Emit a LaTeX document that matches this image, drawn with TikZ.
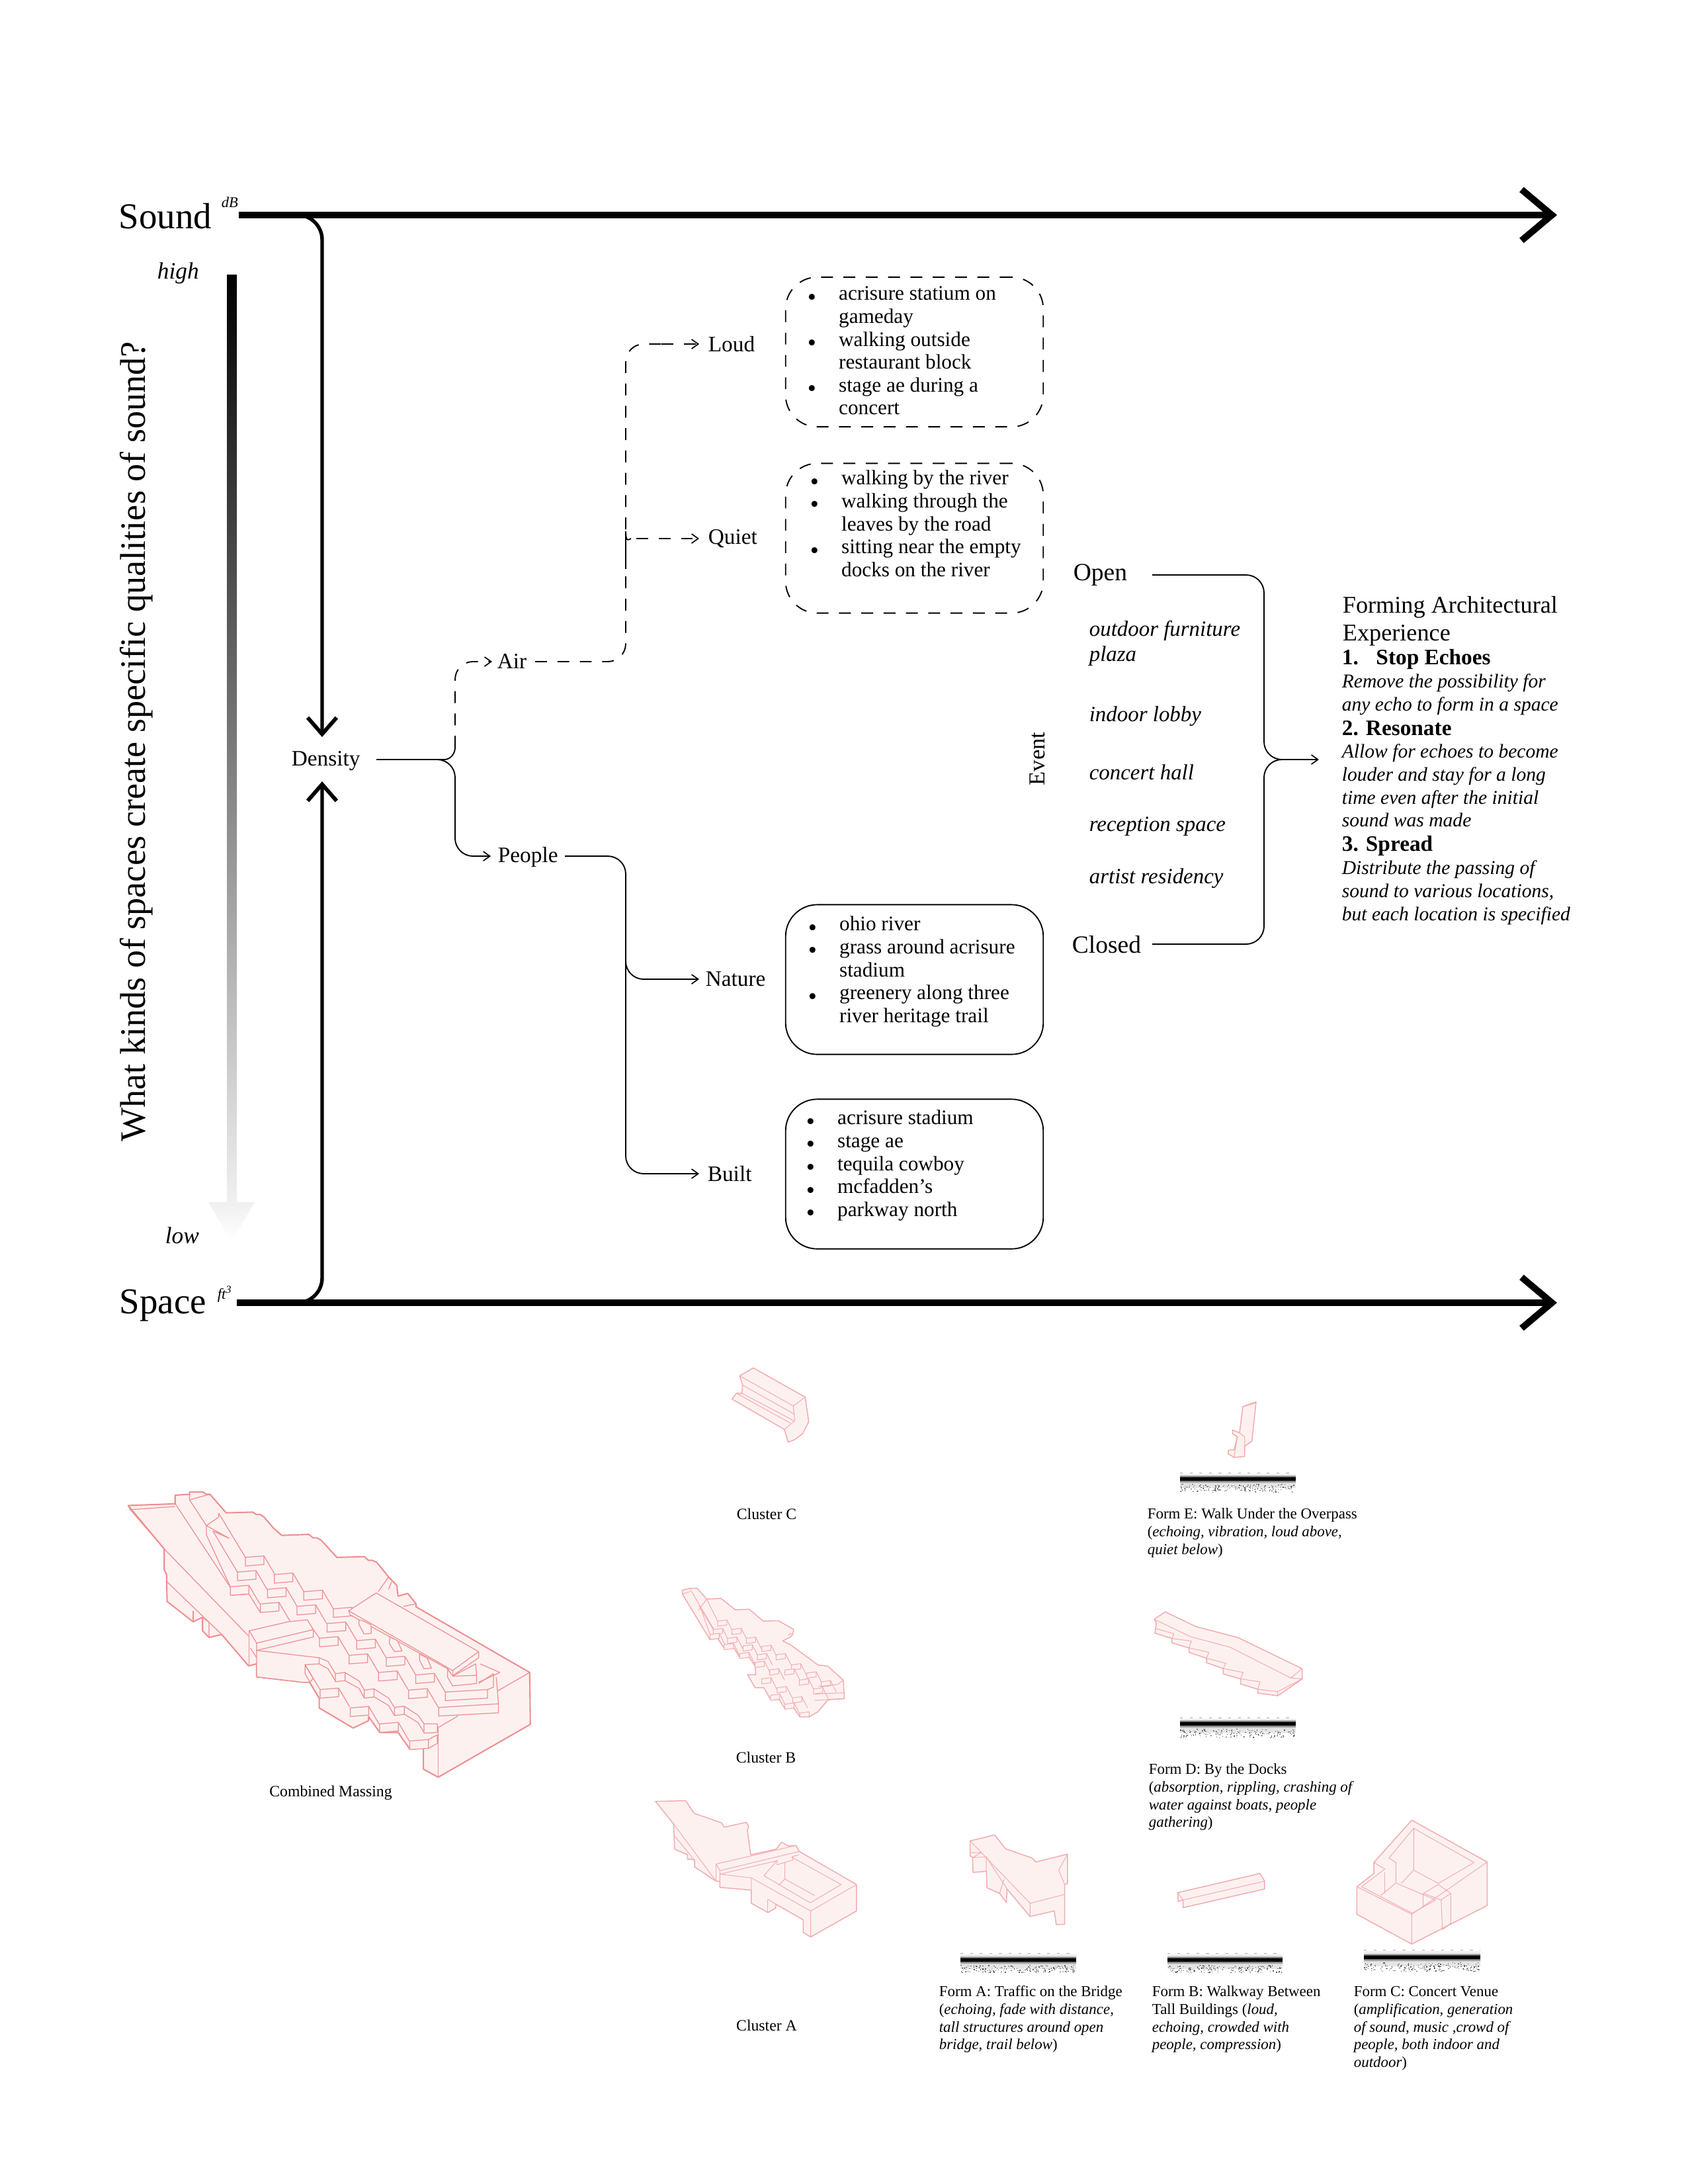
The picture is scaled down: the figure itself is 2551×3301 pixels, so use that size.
\documentclass[tikz,border=0pt]{standalone}
\usepackage{fontspec}
\setmainfont{Liberation Serif}
\usetikzlibrary{arrows.meta,calc}
\definecolor{massfill}{HTML}{FDF1F0}
\definecolor{massline}{HTML}{EE8F92}
\definecolor{masslite}{HTML}{F2ACAF}
\newcommand{\fsz}[2]{\fontsize{#1}{#2}\selectfont}
\newcommand{\bu}{\raisebox{-1.8pt}{\fontsize{9}{8}\selectfont\textbullet}}
\newcommand{\bl}[1]{\rule{0pt}{6pt}\makebox[11.35pt][l]{\bu}#1}
\newcommand{\nb}[1]{\hspace*{11.35pt}#1}
\newcommand{\fr}{\rule{0pt}{5pt}}
\newcommand{\ii}[1]{\textit{#1}}
\newcommand{\mblk}[2]{%
  \draw[mline] (#1+63,#2-6) -- (#1+100,#2+70);
  \draw[mline,fill=massfill] (#1,#2) -- (#1+63,#2-6) -- (#1+63,#2+29) -- (#1,#2+35) -- cycle;}
\newcommand{\sblk}[2]{%
  \draw[lline] (#1+42,#2-5) -- (#1+68,#2+40);
  \draw[lline,fill=massfill] (#1,#2) -- (#1+42,#2-5) -- (#1+42,#2+15) -- (#1,#2+20) -- cycle;}
\newcommand{\spectro}[6]{%
  \pgfmathsetseed{#6}
  \draw[black!35,line width=0.2pt,dash pattern=on 1pt off 2.5pt] (#1,#3) -- (#2,#3);
  \fill[black!7] (#1,#3+2) rectangle (#2,#4-6);
  \shade[top color=black!7,bottom color=black!85] (#1,#4-6) rectangle (#2,#4-2);
  \fill[black] (#1,#4-2) rectangle (#2,#4+3);
  \shade[top color=black!55,bottom color=black!6] (#1,#4+3) rectangle (#2,#4+7);
  \fill[black!10] (#1,#4+7) rectangle (#2,#4+14);
  \foreach \i in {1,...,170}{%
    \pgfmathsetmacro\rx{#1+rnd*(#2-#1-2)}%
    \pgfmathsetmacro\ry{#4+8+rnd*(#5-#4-9)}%
    \fill[black!65] (\rx,\ry) rectangle ++(1.4,1.2);}
}
\tikzset{
  lab/.style={inner sep=0pt,anchor=base west,font=\fsz{8}{8.3}},
  lst/.style={inner sep=0pt,anchor=north west,align=left,font=\fsz{7.5}{8.3}},
  bigl/.style={inner sep=0pt,anchor=base west,font=\fsz{13.2}{14}},
  midl/.style={inner sep=0pt,anchor=base west,font=\fsz{9}{10}},
  evt/.style={inner sep=0pt,anchor=base west,font=\fsz{7.9}{9}\itshape},
  bdy/.style={inner sep=0pt,anchor=north west,align=left,font=\fsz{7.1}{8.3}\itshape},
  capn/.style={inner sep=0pt,anchor=north west,align=left,font=\fsz{5.5}{6.4}},
  capc/.style={inner sep=0pt,anchor=base,font=\fsz{5.7}{6.4}},
  axisl/.style={line width=2.3pt,-{Straight Barb[length=11pt,width=18.5pt,line width=2.4pt]}},
  dens/.style={line width=1.3pt,rounded corners=9pt,-{Straight Barb[length=6pt,width=10.5pt,line width=1.4pt]}},
  thin1/.style={line width=0.45pt,rounded corners=6.5pt},
  tip1/.style={-{Straight Barb[length=2.4pt,width=3.4pt,line width=0.4pt]}},
  dsh/.style={dash pattern=on 4.3pt off 3.8pt},
  rbox/.style={draw=black,line width=0.45pt,rounded corners=11.5pt,minimum width=93.5pt,minimum height=54.3pt,inner sep=0pt},
  mout/.style={fill=massfill,draw=massline,line width=0.5pt,line join=round},
  mline/.style={draw=massline,line width=0.3pt,line join=round},
  lout/.style={fill=massfill,draw=masslite,line width=0.36pt,line join=round},
  lline/.style={draw=masslite,line width=0.24pt,line join=round},
}
\begin{document}
\begin{tikzpicture}[x=0.24pt,y=-0.24pt]
\useasboundingbox (0,0) rectangle (2551,3301);

% axes labels
\node[bigl] (sound) at (179,345) {Sound};
\node[inner sep=0pt,anchor=base west,font=\fsz{5.4}{6}\itshape] (db) at (334,313) {dB};
\node[bigl] (space) at (180,1985) {Space};
\node[inner sep=0pt,anchor=base west,font=\fsz{5.5}{6.5}\itshape] (ft) at (328,1963) {ft\textsuperscript{3}};
\node[inner sep=0pt,anchor=base west,font=\fsz{8.5}{9}\itshape] (high) at (237,421) {high};
\node[inner sep=0pt,anchor=base west,font=\fsz{8.5}{9}\itshape] (low) at (249,1879) {low};
\node[inner sep=0pt,anchor=base,rotate=90,font=\fsz{13}{14}] (title) at (219,1121) {What kinds of spaces create specific qualities of sound?};

% gradient bar
\shade[top color=black,bottom color=black!6] (343,415) rectangle (358,1817);
\shade[top color=black!6,bottom color=white] (315,1817) -- (385,1817) -- (350,1877) -- cycle;

% main axes
\coordinate (sndE) at (2354,325);
\coordinate (spcS) at (358,1969);
\coordinate (spcE) at (2354,1969);
\draw[axisl] (db.east |- sndE) -- (sndE);
\draw[axisl] (spcS) -- (spcE);

% density
\node[lab] (density) at (440,1157) {Density};
\coordinate (dTop) at (487,1114);
\coordinate (dBot) at (487,1181);
\draw[dens] (450,325) -- (487,325) -- (dTop);
\draw[dens] (450,1969) -- (487,1969) -- (dBot);

% tree
\node[lab] (air) at (751,1010) {Air};
\node[lab] (people) at (752,1303) {People};
\node[lab] (loud) at (1070,531) {Loud};
\node[lab] (quiet) at (1070,822) {Quiet};
\node[lab] (nature) at (1066,1490) {Nature};
\node[lab] (built) at (1069,1785) {Built};
\coordinate (j1) at (688,1148);
\coordinate (j2) at (946,1000);
\coordinate (j3) at (946,1294);
\coordinate (aEnd) at (744,1000);
\coordinate (pEnd) at (742,1294);
\coordinate (lEnd) at (1057,520);
\coordinate (qEnd) at (1057,814);
\coordinate (nEnd) at (1057,1480);
\coordinate (bEnd) at (1057,1774);
\draw[thin1] (569,1148) -- (674,1148);
\draw[thin1,tip1] (660,1148) -- (j1) -- (688,1294) -- (pEnd);
\draw[thin1,tip1,dsh] (688,1130) -- (688,1000) -- (aEnd);
\draw[thin1] (672,1148) .. controls (680,1148) and (688,1140) .. (688,1130);
\draw[thin1,dsh] (809,1000) -- (j2) -- (946,825);
\draw[thin1,dsh] (946,800) -- (946,520) -- (1000,520);
\draw[thin1,tip1,dsh] (1000,520) -- (lEnd);
\draw[thin1,tip1,dsh] (962,814) -- (qEnd);
\draw[thin1] (946,860) -- (946,830) .. controls (946,820) and (950,816) .. (954,814);
\draw[thin1,tip1] (854,1294) -- (j3) -- (946,1774) -- (bEnd);
\draw[thin1,tip1] (946,1445) -- (946,1480) -- (nEnd);

% boxes
\node[rbox,dsh] (bLoud) at (1382.5,532) {};
\node[rbox,dsh] (bQuiet) at (1382.5,813.5) {};
\node[rbox] (bNature) at (1382.5,1480.5) {};
\node[rbox] (bBuilt) at (1382.5,1774.5) {};
\node[lst] (lLoud) at (1220,428) {\bl{acrisure statium on}\\\nb{gameday}\\\nb{\llap{\bu\hspace{8.2pt}}walking outside}\\\nb{restaurant block}\\\nb{\llap{\bu\hspace{8.2pt}}stage ae during a}\\\nb{concert}};
\node[lst] (lQuiet) at (1224,707) {\bl{walking by the river}\\\nb{\llap{\bu\hspace{8.2pt}}walking through the}\\\nb{leaves by the road}\\\nb{\llap{\bu\hspace{8.2pt}}sitting near the empty}\\\nb{docks on the river}};
\node[lst] (lNature) at (1221,1381) {\bl{ohio river}\\\nb{\llap{\bu\hspace{8.2pt}}grass around acrisure}\\\nb{stadium}\\\nb{\llap{\bu\hspace{8.2pt}}greenery along three}\\\nb{river heritage trail}};
\node[lst] (lBuilt) at (1218,1674) {\bl{acrisure stadium}\\\nb{\llap{\bu\hspace{8.2pt}}stage ae}\\\nb{\llap{\bu\hspace{8.2pt}}tequila cowboy}\\\nb{\llap{\bu\hspace{8.2pt}}mcfadden’s}\\\nb{\llap{\bu\hspace{8.2pt}}parkway north}};

% event column
\node[midl] (open) at (1622,877) {Open};
\node[midl] (closed) at (1620,1440) {Closed};
\node[inner sep=0pt,anchor=base,rotate=90,font=\fsz{8.3}{9}] (event) at (1579,1147) {Event};
\node[evt] (e1a) at (1646,961) {outdoor furniture};
\node[evt] (e1b) at (1646,999) {plaza};
\node[evt] (e2) at (1646,1090) {indoor lobby};
\node[evt] (e3) at (1646,1178) {concert hall};
\node[evt] (e4) at (1646,1256) {reception space};
\node[evt] (e5) at (1646,1335) {artist residency};
\coordinate (jr) at (1911,1148);
\coordinate (rEnd) at (1994,1148);
\draw[thin1,tip1] (1742,869) -- (1911,869) -- (jr) -- (rEnd);
\draw[thin1] (1742,1427) -- (1911,1427) -- (jr) -- (1935,1148);

% forming text
\node[inner sep=0pt,anchor=north west,align=left,font=\fsz{8.7}{10.05}] (fh) at (2029,899) {\rule{0pt}{6.5pt}Forming Architectural\\Experience};
\node[inner sep=0pt,anchor=base west,font=\fsz{8}{9}\bfseries] (s1) at (2028,1004) {1.\hspace{6.4pt}Stop Echoes};
\node[bdy] (b1) at (2028,1014) {\rule{0pt}{6pt}Remove the possibility for\\any echo to form in a space};
\node[inner sep=0pt,anchor=base west,font=\fsz{8}{9}\bfseries] (s2) at (2028,1111) {2. Resonate};
\node[bdy] (b2) at (2028,1120) {\rule{0pt}{6pt}Allow for echoes to become\\louder and stay for a long\\time even after the initial\\sound was made};
\node[inner sep=0pt,anchor=base west,font=\fsz{8}{9}\bfseries] (s3) at (2028,1286) {3. Spread};
\node[bdy] (b3) at (2028,1296) {\rule{0pt}{6pt}Distribute the passing of\\sound to various locations,\\but each location is specified};

% captions
\node[capc] (cMass) at (500,2715) {Combined Massing};
\node[capc] (cC) at (1159,2296) {Cluster C};
\node[capc] (cB) at (1158,2664) {Cluster B};
\node[capc] (cA) at (1159,3069) {Cluster A};
\node[capn] (fE) at (1734,2274) {\fr Form E: Walk Under the Overpass\\(\ii{echoing, vibration, loud above,}\\\ii{quiet below})};
\node[capn] (fD) at (1736,2660) {\fr Form D: By the Docks\\(\ii{absorption, rippling, crashing of}\\\ii{water against boats, people}\\\ii{gathering})};
\node[capn] (fA) at (1419,2996) {\fr Form A: Traffic on the Bridge\\(\ii{echoing, fade with distance,}\\\ii{tall structures around open}\\\ii{bridge, trail below})};
\node[capn] (fB) at (1741,2996) {\fr Form B: Walkway Between\\Tall Buildings (\ii{loud,}\\\ii{echoing, crowded with}\\\ii{people, compression})};
\node[capn] (fC) at (2046,2996) {\fr Form C: Concert Venue\\(\ii{amplification, generation}\\\ii{of sound, music ,crowd of}\\\ii{people, both indoor and}\\\ii{outdoor})};

% spectrograms
\spectro{1784}{1959}{2226}{2235}{2256}{11}
\spectro{1784}{1959}{2596}{2605}{2627}{22}
\spectro{1452}{1627}{2952}{2962}{2982}{33}
\spectro{1765}{1939}{2952}{2962}{2982}{44}
\spectro{2062}{2238}{2947}{2958}{2980}{55}

% ---------- Combined massing
\begin{scope}[shift={(150,2180)},xscale=0.4464,yscale=0.37]
\draw[mout] (98,258) -- (257,251) -- (257,216) -- (306,212) -- (306,203) -- (352,203) -- (362,212) -- (375,212) -- (430,288) -- (520,285) -- (532,295) -- (546,295) -- (558,305) -- (590,350) -- (618,380) -- (710,376) -- (724,390) -- (737,390) -- (752,400) -- (805,470) -- (898,467) -- (912,482) -- (925,482) -- (940,490) -- (980,550) -- (1008,585) -- (1012,628) -- (1045,617) -- (1073,660) -- (1073,672) -- (1458,940) -- (1460,1152) -- (1148,1368) -- (1098,1335) -- (1098,1250) -- (1052,1253) -- (1012,1185) -- (950,1185) -- (912,1120) -- (912,1137) -- (860,1167) -- (745,1085) -- (745,1045) -- (712,980) -- (690,980) -- (533,958) -- (533,905) -- (510,912) -- (505,912) -- (415,785) -- (372,797) -- (350,770) -- (350,715) -- (318,733) -- (230,650) -- (228,540) -- (220,520) -- (220,435) -- cycle;
\draw[mline] (98,258) -- (105,275) -- (257,262);
\draw[mline] (105,275) -- (220,435) -- (505,790);
\draw[mline] (230,570) -- (415,785);
\draw[mline] (318,690) -- (318,733);
\draw[mline] (350,715) -- (372,735) -- (372,797);
\draw[mline] (257,250) -- (444,592);
\draw[mline] (306,235) -- (363,340);
\draw[mline] (306,212) -- (306,235) -- (375,212);
\draw[mline] (363,340) -- (405,305) -- (405,290) -- (495,470);
\draw[mline] (363,340) -- (363,378) -- (444,590);
\draw[mline] (363,340) -- (440,392) -- (385,362) -- (468,530);
\draw[mline] (444,625) -- (507,620) -- (546,695);
\foreach \a/\b in {495/470,593/540,693/610,793/680,468/530,570/600,670/670,772/740,872/810,972/880,1072/950,444/590,546/660,746/800,846/870,946/940,1048/1012,748/1010,850/1085,950/1150}{\mblk{\a}{\b}}
\draw[mline,fill=massfill] (1052,1220) -- (1115,1214) -- (1115,1250) -- (1052,1255) -- cycle;
\draw[mline] (725,765) -- (746,800);
\foreach \a/\b in {800/945,898/1012,1000/1083}{\draw[mline,fill=massfill] (\a,\b) -- (\a+33,\b-5) -- (\a+33,\b+28) -- (\a,\b+33) -- cycle;}
% bridge
\draw[mline,fill=massfill] (508,770) -- (640,733) -- (705,725) -- (725,765) -- (725,795) -- (533,850) -- (533,820) -- cycle;
\draw[mline] (533,820) -- (725,765);
\draw[mline] (508,770) -- (508,912);
\draw[mline] (512,840) -- (533,880);
\draw[mline,fill=massfill] (533,850) -- (745,880) -- (745,905) -- (697,908) -- (725,965) -- (712,980) -- (690,980) -- (533,958) -- cycle;
\draw[mline] (745,880) -- (775,895) -- (800,945);
\draw[mline] (745,905) -- (775,925) -- (800,975);
\draw[mline] (697,908) -- (748,1010);
\draw[mline] (697,908) -- (697,945) -- (745,1045);
\draw[mline] (832,940) -- (880,975) -- (898,1012);
\draw[mline] (832,973) -- (880,1005) -- (898,1045);
\draw[mline] (932,1008) -- (980,1045) -- (1000,1083);
\draw[mline] (932,1040) -- (980,1075) -- (1000,1116);
\draw[mline] (1033,1078) -- (1080,1115) -- (1100,1150);
\draw[mline] (1033,1110) -- (1080,1145) -- (1100,1185);
\draw[mline,fill=massfill] (1100,1150) -- (1145,1150) -- (1145,1185) -- (1100,1188) -- cycle;
\draw[mline,fill=massfill] (1115,1214) -- (1145,1195) -- (1145,1230) -- (1115,1250) -- cycle;
% big slab on the right
\draw[mline,fill=massfill] (845,688) -- (938,615) -- (1285,855) -- (1285,880) -- (1195,955) -- (1180,925) -- (850,705) -- cycle;
\draw[mline] (845,688) -- (1197,932);
\draw[mline] (1197,932) -- (1285,855);
\draw[mline] (1197,932) -- (1197,955);
\draw[mline,fill=massfill] (1197,955) -- (1275,905) -- (1278,952) -- (1197,958) -- cycle;
\draw[mline,fill=massfill] (1180,925) -- (1197,955) -- (1278,952) -- (1278,985) -- (1197,995) -- (1180,960) -- cycle;
\draw[mline,fill=massfill] (880,725) -- (895,730) -- (920,745) -- (922,780) -- (897,783) -- (880,745) -- cycle;
\draw[mline,fill=massfill] (985,795) -- (1010,810) -- (1025,852) -- (1000,855) -- (982,820) -- cycle;
\draw[mline,fill=massfill] (1085,865) -- (1110,880) -- (1125,922) -- (1100,925) -- (1085,890) -- cycle;
\draw[mline] (1290,905) -- (1357,940) -- (1285,980);
\draw[mline] (1285,985) -- (1335,945) -- (1335,1000) -- (1315,1010);
\draw[mline] (1345,960) -- (1352,1068);
\draw[mline,fill=massfill] (1172,1020) -- (1315,1010) -- (1315,1045) -- (1172,1055) -- cycle;
\draw[mline,fill=massfill] (1150,1083) -- (1352,1068) -- (1352,1105) -- (1150,1118) -- cycle;
\draw[mline] (1350,1015) -- (1458,940);
\draw[mline] (1148,1165) -- (1148,1368);
\draw[mline] (1148,1165) -- (1215,1118);
\draw[mline] (1030,670) -- (1073,660);
\draw[mline] (945,610) -- (980,550);
\draw[mline] (980,600) -- (990,570);
\end{scope}

% ---------- Cluster C
\begin{scope}[shift={(950,2040)},xscale=0.3333,yscale=0.3827]
\draw[lout] (505,103) -- (567,72) -- (802,187) -- (818,285) -- (790,332) -- (755,355) -- (725,365) -- (708,315) -- (470,195) -- (490,172) -- (515,172) -- (518,140) -- cycle;
\draw[lline] (505,103) -- (748,222) -- (802,187);
\draw[lline] (748,222) -- (755,280) -- (708,315) -- (725,365);
\draw[lline] (518,140) -- (750,253);
\draw[lline] (515,172) -- (750,280);
\draw[lline] (490,172) -- (735,290);
\end{scope}

% ---------- Cluster B
\begin{scope}[shift={(950,2040)},xscale=0.3333,yscale=0.3827]
\draw[lout] (245,950) -- (280,942) -- (312,942) -- (355,985) -- (420,982) -- (485,1027) -- (548,1025) -- (612,1072) -- (680,1070) -- (750,1105) -- (745,1125) -- (735,1135) -- (700,1150) -- (735,1165) -- (860,1245) -- (905,1250) -- (975,1305) -- (980,1378) -- (905,1383) -- (860,1430) -- (820,1450) -- (778,1450) -- (750,1415) -- (710,1418) -- (685,1382) -- (645,1382) -- (615,1335) -- (575,1335) -- (540,1283) -- (578,1283) -- (575,1250) -- (548,1215) -- (505,1215) -- (480,1180) -- (435,1180) -- (405,1140) -- (370,1145) -- (245,965) -- cycle;
\draw[lline] (245,965) -- (280,955);
\draw[lline] (280,945) -- (405,1130);
\draw[lline] (320,1010) -- (385,1105);
\draw[lline] (318,1030) -- (355,985) -- (405,1072);
\draw[lline] (330,1025) -- (370,1125);
\foreach \a/\b in {405/1072,470/1105,535/1140,605/1172,670/1205,740/1245,810/1277,875/1312,385/1105,450/1140,520/1170,585/1205,640/1265,710/1265,775/1305,840/1340,370/1125,435/1165,505/1200,575/1235,605/1300,675/1335,745/1375,645/1365,710/1400}{\sblk{\a}{\b}}
\draw[lline,fill=massfill] (778,1435) -- (820,1430) -- (820,1450) -- (778,1450) -- cycle;
\draw[lline] (845,1360) -- (975,1355);
\draw[lline] (845,1385) -- (975,1378);
\draw[lline] (860,1330) -- (950,1322) -- (975,1305);
\draw[lline] (725,1130) -- (735,1120) -- (745,1125);
\end{scope}

% ---------- Cluster A
\begin{scope}[shift={(980,2700)},xscale=0.3333,yscale=0.3333]
\draw[lout] (33,68) -- (170,65) -- (208,122) -- (332,165) -- (345,185) -- (445,163) -- (455,180) -- (450,200) -- (465,310) -- (580,285) -- (605,253) -- (635,270) -- (670,268) -- (685,295) -- (945,445) -- (945,565) -- (737,683) -- (703,662) -- (703,605) -- (580,535) -- (578,552) -- (543,572) -- (468,530) -- (468,470) -- (430,467) -- (325,458) -- (325,430) -- (308,430) -- (210,365) -- (210,335) -- (195,330) -- (178,330) -- (178,310) -- (120,285) -- (115,170) -- cycle;
\draw[lline] (115,170) -- (308,430);
\draw[lline] (120,225) -- (210,335);
\draw[lline] (308,352) -- (670,268);
\draw[lline] (325,382) -- (685,295);
\draw[lline] (325,398) -- (580,338);
\draw[lline] (308,352) -- (308,430);
\draw[lline] (308,352) -- (325,382) -- (325,458);
\draw[lline] (325,398) -- (468,415) -- (468,470);
\draw[lline] (468,415) -- (737,565) -- (737,683);
\draw[lline] (737,565) -- (945,445);
\draw[lline] (525,405) -- (585,335) -- (585,355) -- (655,335) -- (655,318) -- (685,310);
\draw[lline] (525,405) -- (735,528) -- (875,445) -- (650,320);
\draw[lline] (595,445) -- (620,420) -- (620,345);
\draw[lline] (620,420) -- (755,495);
\draw[lline] (543,512) -- (543,572);
\draw[lline] (543,512) -- (580,535);
\end{scope}

% ---------- Form E, D
\begin{scope}[shift={(1700,2080)},xscale=0.3333,yscale=0.4464]
\draw[lout] (537,103) -- (597,87) -- (578,220) -- (546,237) -- (545,272) -- (497,275) -- (470,262) -- (472,250) -- (497,250) -- (512,205) -- (490,195) -- (490,182) -- (522,192) -- cycle;
\draw[lline] (522,192) -- (545,205) -- (546,237);
\draw[lline] (512,205) -- (497,275);
\draw[lline] (537,103) -- (590,92) -- (597,87);
\draw[lout] (135,823) -- (185,798) -- (325,848) -- (515,885) -- (805,990) -- (807,1025) -- (695,1082) -- (605,1073) -- (605,1060) -- (527,1042) -- (527,1025) -- (448,1008) -- (448,990) -- (372,970) -- (372,955) -- (293,935) -- (293,920) -- (215,903) -- (215,888) -- (138,870) -- (145,835) -- cycle;
\draw[lline] (135,823) -- (300,882) -- (480,918) -- (755,1022) -- (805,990);
\draw[lline] (755,1022) -- (807,1025);
\draw[lline] (145,855) -- (225,872) -- (215,888) -- (303,897) -- (293,920) -- (383,935) -- (372,955) -- (460,972) -- (448,990) -- (538,1003) -- (527,1025) -- (615,1035) -- (605,1060) -- (695,1068) -- (807,1025);
\draw[lline] (695,1068) -- (695,1082);
\end{scope}

% ---------- Form A
\begin{scope}[shift={(960,2730)},xscale=0.4464,yscale=0.3333]
\draw[lout] (1135,157) -- (1218,130) -- (1255,193) -- (1345,235) -- (1358,253) -- (1465,217) -- (1465,350) -- (1455,355) -- (1455,535) -- (1427,537) -- (1420,475) -- (1338,500) -- (1260,375) -- (1258,437) -- (1235,395) -- (1192,370) -- (1190,295) -- (1145,300) -- (1143,232) -- (1135,225) -- cycle;
\draw[lline] (1135,157) -- (1338,440) -- (1338,500);
\draw[lline] (1338,440) -- (1455,400);
\draw[lline] (1135,210) -- (1172,210) -- (1145,232) -- (1190,230) -- (1190,295);
\draw[lline] (1190,230) -- (1260,375);
\draw[lline] (1465,217) -- (1435,290) -- (1455,355);
\draw[lline] (1235,395) -- (1250,330);
\end{scope}

% ---------- Form B, C
\begin{scope}[shift={(1660,2730)},xscale=0.415,yscale=0.3333]
\draw[lout] (290,392) -- (590,305) -- (607,340) -- (607,375) -- (310,460) -- (310,425) -- (292,432) -- cycle;
\draw[lline] (310,425) -- (607,340);
\draw[lline] (290,392) -- (310,425);
\draw[lout] (1143,63) -- (1418,253) -- (1418,450) -- (1143,625) -- (943,490) -- (943,365) -- (1005,305) -- (1005,255) -- cycle;
\draw[lline] (943,365) -- (1143,490) -- (1143,625);
\draw[lline] (1143,490) -- (1418,253);
\draw[lline] (1150,100) -- (1370,255) -- (1240,350);
\draw[lline] (1150,100) -- (1060,235) -- (1085,255) -- (1085,345);
\draw[lline] (1005,255) -- (1045,285) -- (960,365);
\draw[lline] (1045,300) -- (1045,395);
\draw[lline] (1030,405) -- (1085,348) -- (1230,425) -- (1145,485) -- (960,365);
\draw[lline] (1150,100) -- (1150,290) -- (1240,350);
\draw[lline] (1150,290) -- (1105,350);
\draw[lline] (1185,395) -- (1185,460);
\draw[lline] (1185,395) -- (1240,355) -- (1285,395);
\draw[lline] (1185,395) -- (1250,425);
\draw[lline] (1250,425) -- (1285,395) -- (1285,530) -- (1255,560) -- (1250,425);
\end{scope}
\end{tikzpicture}
\end{document}
